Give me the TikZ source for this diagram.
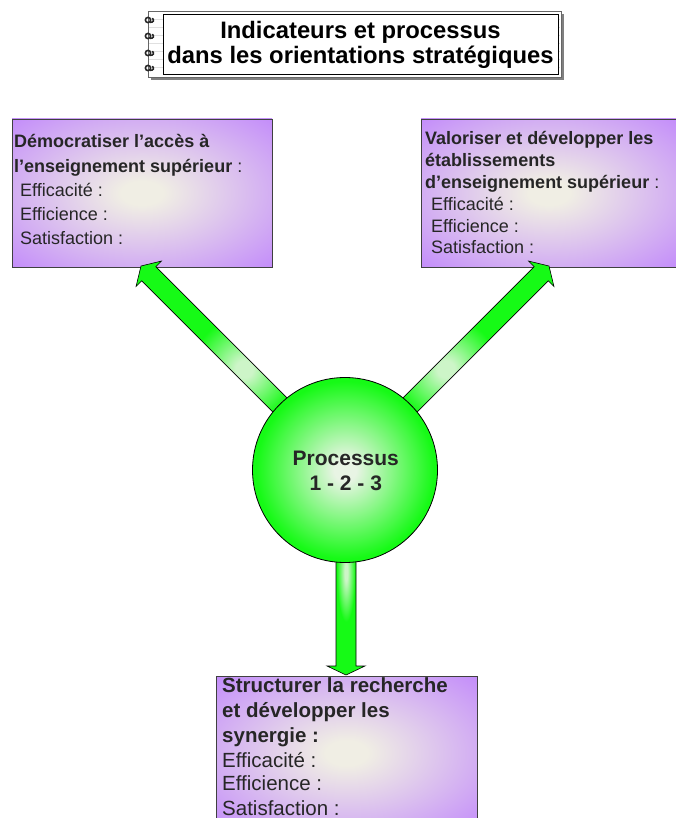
\documentclass[tikz,border=0pt]{standalone}
\usepackage{fontspec}
\setmainfont{Liberation Sans}
\usetikzlibrary{calc,shadings}
\definecolor{boxin}{RGB}{240,238,228}
\definecolor{boxout}{RGB}{196,142,250}
\definecolor{grin}{RGB}{232,244,228}
\definecolor{grout}{RGB}{22,250,22}
\definecolor{arin}{RGB}{205,245,200}
\definecolor{txt}{RGB}{38,38,38}
\pgfdeclareradialshading{boxshade}{\pgfpoint{0bp}{0bp}}{color(0bp)=(boxin); color(4bp)=(boxin); color(35bp)=(boxout); color(50bp)=(boxout)}
\pgfdeclareradialshading{greenshade}{\pgfpoint{0bp}{0bp}}{color(0bp)=(grin); color(3bp)=(grin); color(24bp)=(grout); color(50bp)=(grout)}
\pgfdeclareradialshading{arrowshade}{\pgfpoint{0bp}{0bp}}{color(0bp)=(arin); color(2bp)=(arin); color(12bp)=(grout); color(50bp)=(grout)}
\newcommand\fatarrow[5]{%
  \coordinate (#3h) at ($(#2)!#4!(#1)$);
  \path[arrowbody] ($(#1)!10pt!90:(#2)$) -- ($(#3h)!10pt!90:(#2)$) -- ($(#3h)!#5!90:(#2)$) -- (#2)
    -- ($(#3h)!#5!-90:(#2)$) -- ($(#3h)!10pt!-90:(#2)$) -- ($(#1)!10pt!-90:(#2)$) -- cycle;}
\begin{document}
\begin{tikzpicture}[x=1pt,y=-1pt,
  box/.style={draw=black!75, line width=0.8pt, shading=boxshade},
  arrowbody/.style={draw=black, line width=0.6pt, shading=arrowshade},
  bt/.style={anchor=base west, inner sep=0, text=txt, font=\fontsize{18}{22}\selectfont\bfseries},
  nt/.style={anchor=base west, inner sep=0, text=txt, font=\fontsize{18}{22}\selectfont},
  bbt/.style={anchor=base west, inner sep=0, text=txt, font=\fontsize{20.5}{24}\selectfont\bfseries},
  bnt/.style={anchor=base west, inner sep=0, text=txt, font=\fontsize{20.5}{24}\selectfont},
  ring/.style={line width=1.6pt, black!85}]
\useasboundingbox (0,0) rectangle (676,818);

% ---- title notepad ----
\fill[black!50] (151,14) rectangle (564,80);
\fill[white] (148,11) rectangle (561,77);
\foreach \yy in {19,27,35,43,51,59,67}
  \draw[black!12, line width=0.5pt] (149,\yy) -- (560,\yy);
\draw[black!60, line width=0.6pt] (148,11) rectangle (561,77);
\draw[black, line width=0.8pt, fill=white] (163,14) rectangle (558,74);
\foreach \yy in {20,36,53,68} {
  \draw[ring] (148,\yy) circle (2.6pt);
  \draw[ring] (150,\yy+2.3) .. controls (153.5,\yy+2.8) and (154.5,\yy) .. (152.3,\yy-1.8);
}
\node[anchor=base, inner sep=0, font=\fontsize{23.8}{27}\selectfont\bfseries] (t1) at (360.5,38.5) {Indicateurs et processus};
\node[anchor=base, inner sep=0, font=\fontsize{23.8}{27}\selectfont\bfseries] (t2) at (360.5,64) {dans les orientations stratégiques};

% ---- boxes ----
\path[box] (12,119) rectangle (272,267);
\node[bt] (l1) at (14,148) {Démocratiser l’accès à};
\node[nt] (l2) at (14,172.5) {\textbf{l’enseignement supérieur} :};
\node[nt] (l3) at (20,197) {Efficacité :};
\node[nt] (l4) at (20,221) {Efficience :};
\node[nt] (l5) at (20,244) {Satisfaction :};

\path[box] (421,119) rectangle (677,267);
\node[bt] (r1) at (425,144.5) {Valoriser et développer les};
\node[bt] (r2) at (425,166.5) {établissements};
\node[nt] (r3) at (425,188.5) {\textbf{d’enseignement supérieur} :};
\node[nt] (r4) at (431,210.5) {Efficacité :};
\node[nt] (r5) at (431,232.5) {Efficience :};
\node[nt] (r6) at (431,253.5) {Satisfaction :};

\path[box] (216,676) rectangle (477,830);
\node[bbt] (m1) at (222,692) {Structurer la recherche};
\node[bbt] (m2) at (222,717) {et développer les};
\node[bbt] (m3) at (222,742) {synergie :};
\node[bnt] (m4) at (222,767) {Efficacité :};
\node[bnt] (m5) at (222,790.5) {Efficience :};
\node[bnt] (m6) at (222,815) {Satisfaction :};

% ---- arrows ----
\coordinate (c0) at (345,470);
\coordinate (c1) at (346,470);
\coordinate (tl) at (141,266);
\coordinate (tr) at (549,266);
\coordinate (tb) at (346,675);
\fatarrow{c0}{tl}{al}{11pt}{18pt}
\fatarrow{c0}{tr}{ar}{11pt}{18pt}
\fatarrow{c1}{tb}{ab}{9pt}{19pt}

% ---- circle ----
\node[circle, minimum size=185pt, inner sep=0, draw=black, line width=0.8pt, shading=greenshade] (p) at (345,470) {};
\node[anchor=base, inner sep=0, text=txt, font=\fontsize{21}{25}\selectfont\bfseries] (p1) at (345.8,465) {Processus};
\node[anchor=base, inner sep=0, text=txt, font=\fontsize{21}{25}\selectfont\bfseries] (p2) at (345.8,490) {1 - 2 - 3};
\end{tikzpicture}
\end{document}
